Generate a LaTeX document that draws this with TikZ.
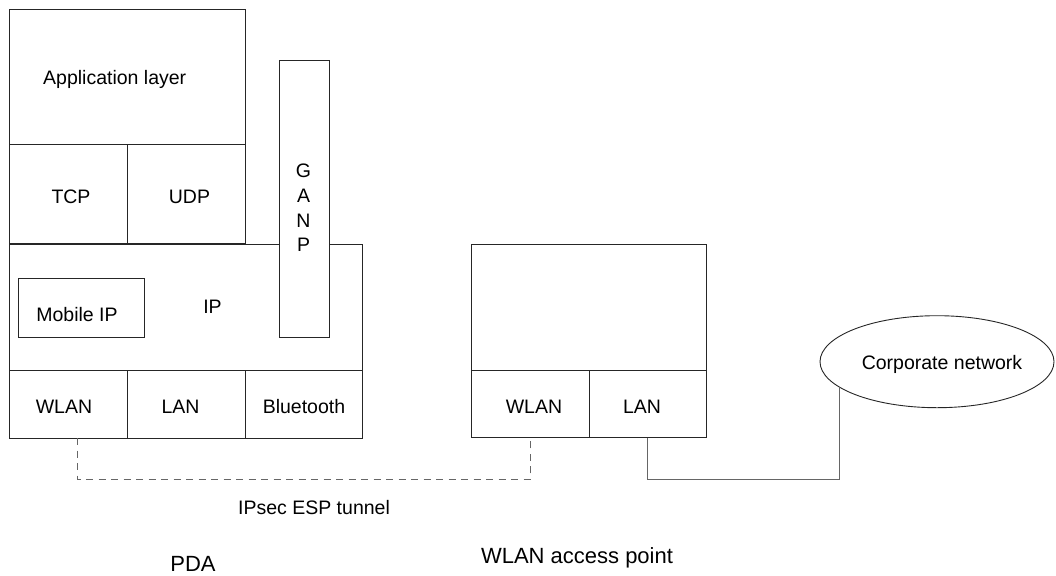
\documentclass[tikz,border=0pt]{standalone}
\usepackage{fontspec}
\setmainfont{Liberation Sans}
\usetikzlibrary{shapes.geometric}
\begin{document}
\begin{tikzpicture}[x=1pt,y=-1pt,
  box/.style={draw=black!85, line width=0.9pt, inner sep=0pt, outer sep=0pt, anchor=north west},
  lbl/.style={inner sep=0pt, anchor=base, font=\fontsize{19.5}{23}\selectfont},
  biglbl/.style={inner sep=0pt, anchor=base, font=\fontsize{22}{26}\selectfont},
  link/.style={draw=black!60, line width=0.9pt},
  tunnel/.style={link, dash pattern=on 7pt off 5.5pt}]
\useasboundingbox (0,0) rectangle (1056,575);

% PDA protocol stack
\node[box, minimum width=235.5pt, minimum height=134.3pt] (app) at (9.5,9.7) {};
\node[box, minimum width=118pt, minimum height=99.7pt] (tcp) at (9.5,144) {};
\node[box, minimum width=117.5pt, minimum height=99.7pt] (udp) at (127.5,144) {};
\node[box, minimum width=352.5pt, minimum height=126pt] (ip) at (9.5,244) {};
\node[box, minimum width=126pt, minimum height=59pt] (mip) at (18,278) {};
\node[box, fill=white, minimum width=50pt, minimum height=277pt] (ganp) at (279,60) {};
\node[box, minimum width=118pt, minimum height=68pt] (pwlan) at (9.5,370) {};
\node[box, minimum width=117.5pt, minimum height=68pt] (plan) at (127.5,370) {};
\node[box, minimum width=117pt, minimum height=68pt] (pbt) at (245,370) {};

% WLAN access point
\node[box, minimum width=235pt, minimum height=125.7pt] (ap) at (471.7,244.3) {};
\node[box, minimum width=117.3pt, minimum height=67.7pt] (awlan) at (471.7,370) {};
\node[box, minimum width=117.7pt, minimum height=67.7pt] (alan) at (589,370) {};

% Corporate network
\node[draw=black!85, line width=0.9pt, ellipse, inner sep=0pt,
      minimum width=234pt, minimum height=92pt] (corp) at (937,361.7) {};

% Labels
\node[lbl, anchor=base west] (tapp) at (43,85) {Application layer};
\node[lbl] (ttcp) at (71,203) {TCP};
\node[lbl] (tudp) at (189.5,203) {UDP};
\node[lbl] (tg) at (303.5,177.5) {G};
\node[lbl] (ta) at (303.5,202.5) {A};
\node[lbl] (tn) at (303.5,227) {N};
\node[lbl] (tp) at (303.5,251) {P};
\node[lbl] (tip) at (212.5,313) {IP};
\node[lbl] (tmip) at (77,321) {Mobile IP};
\node[lbl] (tpwlan) at (64,413) {WLAN};
\node[lbl] (tplan) at (180.5,413) {LAN};
\node[lbl] (tpbt) at (304,413) {Bluetooth};
\node[lbl] (tawlan) at (534,413) {WLAN};
\node[lbl] (talan) at (642,413) {LAN};
\node[lbl] (tcorp) at (942,369) {Corporate network};
\node[lbl] (ttun) at (314,514) {IPsec ESP tunnel};
\node[biglbl] (tpda) at (193,571) {PDA};
\node[biglbl] (tapl) at (577,563) {WLAN access point};

% Connections
\coordinate (row) at (0,479);
\draw[tunnel] ([xshift=8.5pt]pwlan.south) -- ([xshift=8.5pt]pwlan.south |- row) -| (awlan.south);
\draw[link] (alan.south) -- (alan.south |- row) -| (corp.195.3);
\end{tikzpicture}
\end{document}
